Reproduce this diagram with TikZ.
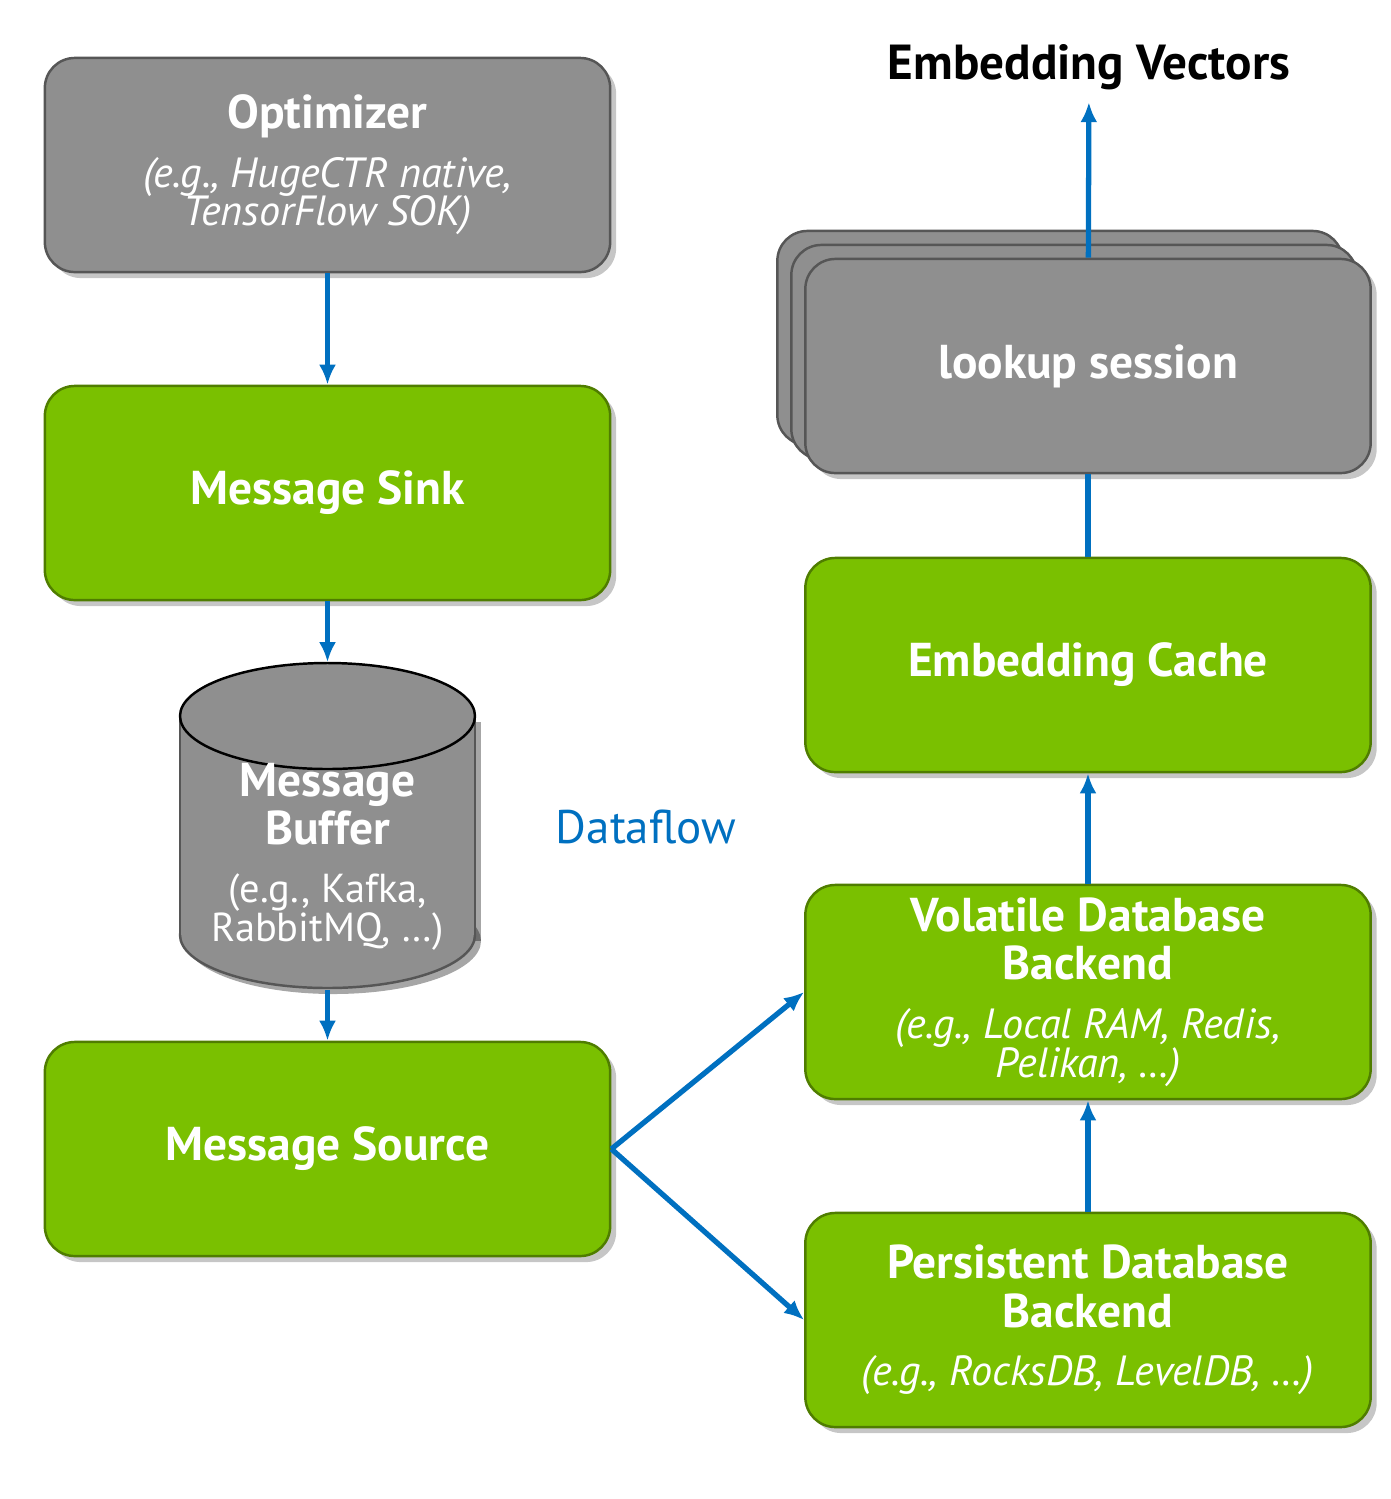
\documentclass[tikz,border=0pt]{standalone}
\usepackage{fontspec}
\setmainfont{PT Sans}
\usetikzlibrary{arrows.meta,shadows,positioning}

\definecolor{nvgreen}{HTML}{7AC000}
\definecolor{boxgray}{HTML}{8F8F8F}
\definecolor{flowblue}{HTML}{0070C0}

\newcommand{\boxtitle}{\bfseries\fontsize{13.5}{13.8}\selectfont}
\newcommand{\boxnote}{\mdseries\fontsize{12}{11}\selectfont}

\tikzset{
  block/.style={rounded corners=0.3cm, minimum width=5.65cm, minimum height=2.14cm,
    text=white, align=center, inner sep=2pt, line width=0.7pt, font=\boxtitle,
    drop shadow={shadow xshift=0.06cm, shadow yshift=-0.06cm, opacity=0.45}},
  greenblock/.style={block, fill=nvgreen, draw=nvgreen!65!black},
  grayblock/.style={block, fill=boxgray, draw=boxgray!60!black},
  flow/.style={draw=flowblue, line width=1.5pt, -{Latex[length=0.2cm, width=0.17cm]}},
  flowline/.style={draw=flowblue, line width=1.5pt}
}

\begin{document}
\begin{tikzpicture}[x=0.01cm, y=-0.01cm]
\useasboundingbox (0,0) rectangle (1391,1499);

% left column
\node[grayblock] (optimizer) at (327.5,165) {Optimizer\\[2.8pt]
  \boxnote\itshape (e.g., HugeCTR native,\\[-2.8pt] \boxnote\itshape TensorFlow SOK)};
\node[greenblock] (sink) at (327.5,493) {Message Sink};

% message buffer cylinder
\fill[black, opacity=0.35] (333.5,941) ellipse [x radius=147.5, y radius=53];
\fill[black, opacity=0.35] (186,722) rectangle (481,941);
\draw[boxgray!60!black, line width=0.7pt, fill=boxgray] (327.5,935) ellipse [x radius=147.5, y radius=53];
\fill[boxgray] (180,716) rectangle (475,935);
\draw[boxgray!60!black, line width=0.7pt] (180,716) -- (180,935) (475,716) -- (475,935);
\draw[black, line width=0.7pt, fill=boxgray] (327.5,716) ellipse [x radius=147.5, y radius=53];
\node[minimum width=2.95cm, minimum height=3.26cm, inner sep=0pt] (buffer) at (327.5,826) {};
\node[text=white, align=center, font=\boxtitle] (buffertext) at (327.5,857) {Message\\Buffer\\[2.6pt]
  \mdseries\fontsize{11.5}{11}\selectfont (e.g., Kafka,\\[-2.6pt] \mdseries\fontsize{11.5}{11}\selectfont RabbitMQ, …)};

\node[greenblock] (source) at (327.5,1149) {Message Source};
\node[text=flowblue, font=\mdseries\fontsize{13.4}{14}\selectfont] (dataflow) at (646,827) {Dataflow};

% right column
\node[font=\bfseries\fontsize{14}{14}\selectfont] (vectors) at (1089,67) {Embedding Vectors};
\node[grayblock] (lookupback) at (1060,338) {};
\node[grayblock] (lookupmid) at (1074,352) {};
\node[grayblock] (lookup) at (1088,366) {lookup session};
\node[greenblock] (cache) at (1088,665) {Embedding Cache};
\node[greenblock] (volatile) at (1088,992) {Volatile Database\\Backend\\[2.8pt]
  \boxnote\itshape (e.g., Local RAM, Redis,\\[-2.8pt] \boxnote\itshape Pelikan, …)};
\node[greenblock] (persistent) at (1088,1320) {Persistent Database\\Backend\\[2.8pt]
  \boxnote\itshape (e.g., RocksDB, LevelDB, …)};

% dataflow
\draw[flow] (optimizer) -- (sink);
\draw[flow] (sink) -- (buffer);
\draw[flow] (buffer) -- (source);
\draw[flow] (source.east) -- (volatile.west);
\draw[flow] (source.east) -- (persistent.west);
\draw[flow] (persistent) -- (volatile);
\draw[flow] (volatile) -- (cache);
\draw[flowline] (cache) -- (lookup);
\draw[flow] (lookup) -- (vectors);
\end{tikzpicture}
\end{document}
